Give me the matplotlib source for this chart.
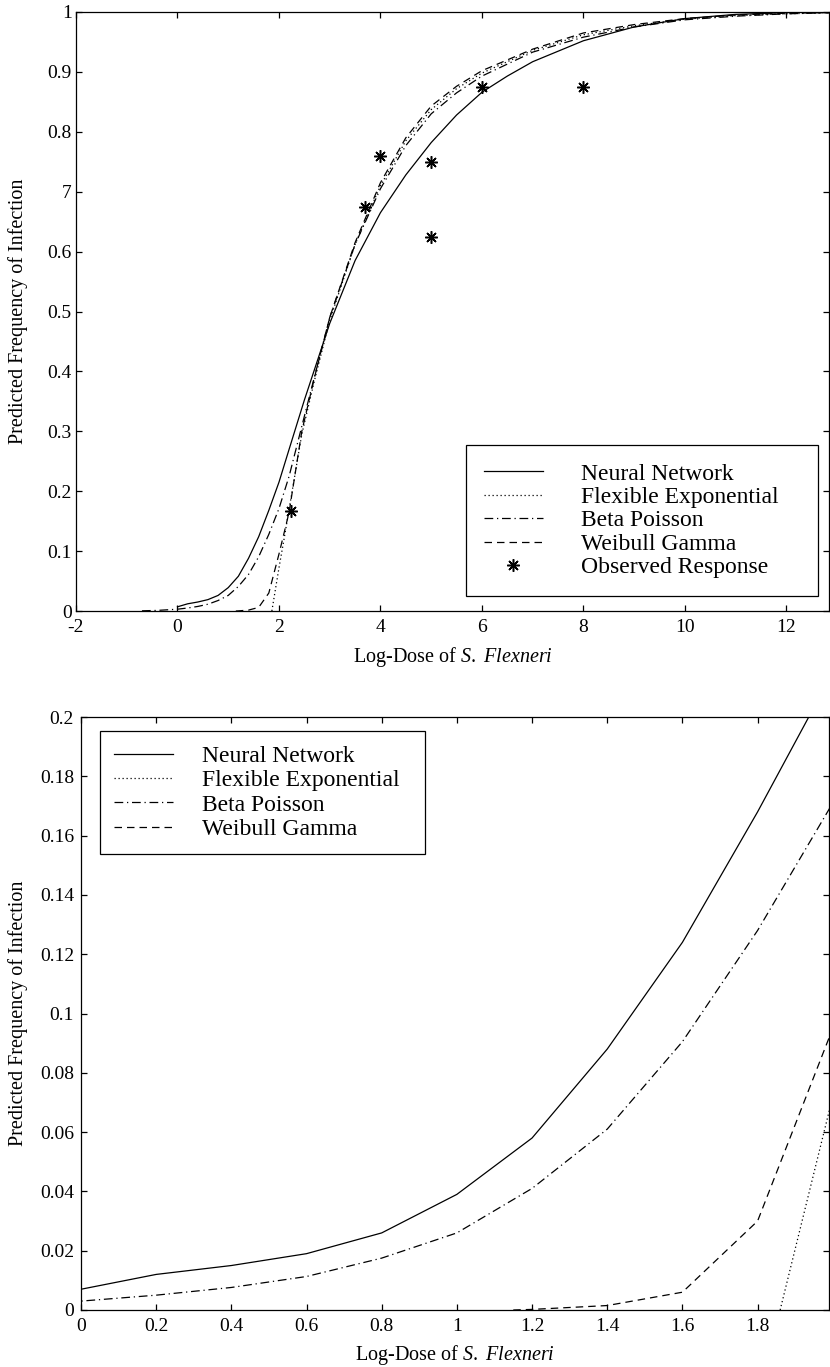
import matplotlib
matplotlib.use("Agg")
import matplotlib.pyplot as plt

plt.rcParams['font.family'] = ['Liberation Serif', 'DejaVu Serif']
plt.rcParams['mathtext.fontset'] = 'custom'
plt.rcParams['mathtext.rm'] = 'Liberation Serif'
plt.rcParams['mathtext.it'] = 'Liberation Serif:italic'
plt.rcParams['axes.unicode_minus'] = False

# --- data ---
nn_x = [0, 0.2, 0.4, 0.6, 0.8, 1.0, 1.2, 1.4, 1.6, 1.8, 2.0, 2.2, 2.5, 3.0, 3.5,
        4.0, 4.5, 5.0, 5.5, 6.0, 6.5, 7.0, 8.0, 9.0, 10.0, 11.0, 12.0, 13.0]
nn_y = [0.007, 0.012, 0.015, 0.019, 0.026, 0.039, 0.058, 0.088, 0.124, 0.168, 0.215,
        0.27, 0.352, 0.48, 0.585, 0.665, 0.728, 0.782, 0.828, 0.866, 0.893, 0.917,
        0.952, 0.975, 0.989, 0.996, 0.999, 1.0]

fe_x = [1.86, 2.0, 2.1, 2.2, 2.45, 2.7, 3.0, 3.5, 4.0, 4.5, 5.0, 5.5, 6.0, 7.0, 8.0,
        9.0, 10.0, 11.0, 12.0, 13.0]
fe_y = [0.0, 0.072, 0.12, 0.17, 0.295, 0.385, 0.485, 0.612, 0.71, 0.785, 0.837,
        0.872, 0.898, 0.936, 0.962, 0.977, 0.988, 0.994, 0.997, 0.999]

bp_x = [-0.7, -0.4, -0.2, 0, 0.2, 0.4, 0.6, 0.8, 1.0, 1.2, 1.4, 1.6, 1.8, 2.0, 2.2,
        2.5, 3.0, 3.5, 4.0, 4.5, 5.0, 5.5, 6.0, 7.0, 8.0, 9.0, 10.0, 11.0, 12.0, 13.0]
bp_y = [0.0003, 0.001, 0.002, 0.003, 0.005, 0.0076, 0.0113, 0.0175, 0.026, 0.041,
        0.061, 0.0905, 0.128, 0.171, 0.225, 0.325, 0.49, 0.612, 0.705, 0.777, 0.83,
        0.865, 0.893, 0.933, 0.958, 0.975, 0.987, 0.993, 0.997, 0.999]

wg_x = [1.15, 1.2, 1.4, 1.6, 1.8, 2.0, 2.2, 2.45, 2.7, 3.0, 3.5, 4.0, 4.5, 5.0,
        5.5, 6.0, 7.0, 8.0, 9.0, 10.0, 11.0, 12.0, 13.0]
wg_y = [0.0, 0.0002, 0.0015, 0.006, 0.030, 0.095, 0.165, 0.30, 0.39, 0.49, 0.615,
        0.715, 0.79, 0.843, 0.876, 0.902, 0.938, 0.965, 0.979, 0.989, 0.995, 0.998, 0.999]

obs_x = [2.24, 3.69, 4.0, 5.0, 5.0, 6.0, 8.0]
obs_y = [0.167, 0.675, 0.76, 0.75, 0.625, 0.875, 0.875]

top_yticks = [0, 0.1, 0.2, 0.3, 0.4, 0.5, 0.6, 0.7, 0.8, 0.9, 1.0]
top_ylabels = ['0', '0.1', '0.2', '0.3', '0.4', '0.5', '0.6', '7', '0.8', '0.9', '1']
top_xticks = [-2, 0, 2, 4, 6, 8, 10, 12]
bot_xticks = [0, 0.2, 0.4, 0.6, 0.8, 1.0, 1.2, 1.4, 1.6, 1.8]
bot_xlabels = ['0', '0.2', '0.4', '0.6', '0.8', '1', '1.2', '1.4', '1.6', '1.8']
bot_yticks = [0, 0.02, 0.04, 0.06, 0.08, 0.1, 0.12, 0.14, 0.16, 0.18, 0.2]
bot_ylabels = ['0', '0.02', '0.04', '0.06', '0.08', '0.1', '0.12', '0.14', '0.16', '0.18', '0.2']

xlabel = r'Log-Dose of $\mathit{S.}$ $\mathit{Flexneri}$'
ylabel = 'Predicted Frequency of Infection'

LW = 0.9
styles = {
    'nn': dict(color='black', lw=LW, linestyle='-'),
    'fe': dict(color='black', lw=LW, linestyle=(0, (1, 2.2))),
    'bp': dict(color='black', lw=LW, linestyle=(0, (7, 3, 1, 3))),
    'wg': dict(color='black', lw=LW, linestyle=(0, (6, 4))),
}


def draw_curves(ax):
    ax.plot(nn_x, nn_y, label='Neural Network', **styles['nn'])
    ax.plot(fe_x, fe_y, label='Flexible Exponential', **styles['fe'])
    ax.plot(bp_x, bp_y, label='Beta Poisson', **styles['bp'])
    ax.plot(wg_x, wg_y, label='Weibull Gamma', **styles['wg'])


def style_axes(ax, xpad, ypad):
    ax.tick_params(direction='in', top=True, right=True, length=4.5, width=0.9,
                   labelsize=14)
    ax.tick_params(axis='x', pad=xpad)
    ax.tick_params(axis='y', pad=ypad)
    for s in ax.spines.values():
        s.set_linewidth(0.9)


def add_legend(ax, textpad, spacing, pad, **kw):
    # mode='expand' leaves the spare width on the right, as in the original
    leg = ax.legend(fontsize=17, frameon=True, fancybox=False, edgecolor='black',
                    framealpha=1, handlelength=2.5, handletextpad=textpad,
                    labelspacing=spacing, borderpad=pad, borderaxespad=0,
                    mode='expand', **kw)
    leg.get_frame().set_linewidth(0.9)
    return leg


fig = plt.figure(figsize=(8.3, 13.67), dpi=100)

# top panel
ax1 = fig.add_axes([76 / 830, 1 - 611 / 1367, 753 / 830, 599 / 1367])
draw_curves(ax1)
ax1.plot(obs_x, obs_y, linestyle='none', marker=(8, 2, 0), markersize=9,
         markeredgewidth=1.1, color='black', label='Observed Response')
ax1.set_xlim(-2, 12.84)
ax1.set_ylim(0, 1)
ax1.set_xticks(top_xticks)
ax1.set_yticks(top_yticks)
ax1.set_yticklabels(top_ylabels)
style_axes(ax1, 6, 3)
ax1.set_xlabel(xlabel, fontsize=14.5)
ax1.set_ylabel(ylabel, fontsize=14.5)
ax1.xaxis.set_label_coords(0.5, -0.056)
ax1.yaxis.set_label_coords(-0.064, 0.5)
add_legend(ax1, 1.6, 0.08, 0.75, loc='lower left',
           bbox_to_anchor=((466 - 76) / 753, 0.025, (818 - 466) / 753, 0.25))

# bottom panel
ax2 = fig.add_axes([81 / 830, 1 - 1310 / 1367, 748 / 830, 593 / 1367])
draw_curves(ax2)
ax2.set_xlim(0, 1.99)
ax2.set_ylim(0, 0.2)
ax2.set_xticks(bot_xticks)
ax2.set_xticklabels(bot_xlabels)
ax2.set_yticks(bot_yticks)
ax2.set_yticklabels(bot_ylabels)
style_axes(ax2, 6, 5)
ax2.set_xlabel(xlabel, fontsize=14.5)
ax2.set_ylabel(ylabel, fontsize=14.5)
ax2.xaxis.set_label_coords(0.5, -0.056)
ax2.yaxis.set_label_coords(-0.071, 0.5)
add_legend(ax2, 1.2, 0.12, 0.6, loc='upper left',
           bbox_to_anchor=(0.0254, 0.776, (425 - 100) / 748, 0.2))

fig.savefig('out.png', dpi=100)
